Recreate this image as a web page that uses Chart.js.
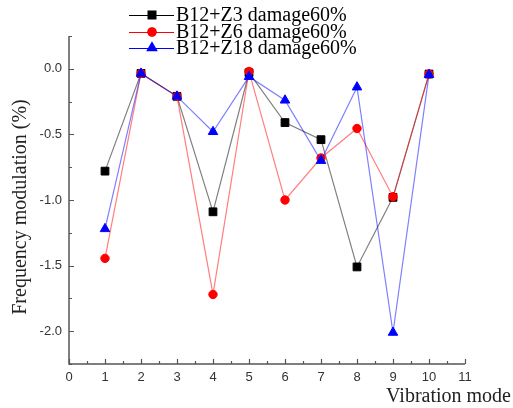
<!DOCTYPE html>
<html>
<head>
<meta charset="utf-8">
<script src="https://cdn.jsdelivr.net/npm/chart.js@4/dist/chart.umd.min.js"></script>
<style>
html,body{margin:0;padding:0;background:#fff;}
#wrap{position:relative;width:513px;height:408px;}
</style>
</head>
<body>
<div id="wrap"><canvas id="c" width="513" height="408"></canvas></div>
<script>
const modes = [1,2,3,4,5,6,7,8,9,10];
const seriesNames = ["B12+Z3 damage60%","B12+Z6 damage60%","B12+Z18 damage60%"];
const z3 = [-0.78,-0.035,-0.21,-1.09,-0.03,-0.41,-0.54,-1.51,-0.98,-0.04];
const z6 = [-1.445,-0.035,-0.21,-1.72,-0.02,-1.00,-0.68,-0.455,-0.975,-0.04];
const z18 = [-1.22,-0.035,-0.21,-0.48,-0.06,-0.24,-0.70,-0.14,-2.01,-0.045];
const yTicks = [0.0,-0.5,-1.0,-1.5,-2.0];
const yMinorTicks = [0.25,-0.25,-0.75,-1.25,-1.75,-2.25];
const xTicks = [0,1,2,3,4,5,6,7,8,9,10,11];
const xTitle = "Vibration mode";
const yTitle = "Frequency modulation (%)";

const colors = ["#000000","#ff0000","#0000ff"];
const lineColors = ["rgba(0,0,0,0.5)","rgba(255,0,0,0.5)","rgba(0,0,255,0.5)"];
const styles = ["rect","circle","triangle"];
const radii = [5.5,4.2,5.5];

function toPts(arr){ return modes.map((m,i)=>({x:m,y:arr[i]})); }

const datasets = [z3,z6,z18].map((arr,i)=>({
  label: seriesNames[i],
  data: toPts(arr),
  borderColor: lineColors[i],
  borderWidth: 1.2,
  pointStyle: styles[i],
  pointRadius: radii[i],
  pointHoverRadius: radii[i],
  pointBackgroundColor: colors[i],
  pointBorderColor: colors[i],
  pointBorderWidth: 1,
  fill: false,
  tension: 0,
  order: 3-i
}));

const serif = "'Liberation Serif','Times New Roman',serif";

const deco = {
  id:'deco',
  beforeDatasetsDraw(chart){
    const ctx = chart.ctx;
    const xs = chart.scales.x, ys = chart.scales.y;
    const a = chart.chartArea;
    ctx.save();
    ctx.strokeStyle = '#555';
    ctx.lineWidth = 1.5;
    ctx.beginPath();
    ctx.moveTo(a.left, a.top);
    ctx.lineTo(a.left, a.bottom);
    ctx.lineTo(a.right, a.bottom);
    ctx.stroke();
    ctx.lineWidth = 1.2;
    ctx.beginPath();
    yTicks.forEach(v=>{const p=Math.round(ys.getPixelForValue(v))+0.5; ctx.moveTo(a.left,p); ctx.lineTo(a.left+5,p);});
    yMinorTicks.forEach(v=>{const p=Math.round(ys.getPixelForValue(v))+0.5; ctx.moveTo(a.left,p); ctx.lineTo(a.left+3,p);});
    xTicks.forEach(v=>{const p=Math.round(xs.getPixelForValue(v))+0.5; ctx.moveTo(p,a.bottom); ctx.lineTo(p,a.bottom-5);});
    xTicks.slice(0,-1).forEach(v=>{const p=Math.round(xs.getPixelForValue(v+0.5))+0.5; ctx.moveTo(p,a.bottom); ctx.lineTo(p,a.bottom-3);});
    ctx.stroke();
    ctx.restore();
  },
  afterDraw(chart){
    const ctx = chart.ctx;
    ctx.save();
    ctx.fillStyle = '#222';
    ctx.font = "20px " + serif;
    ctx.textAlign = 'right';
    ctx.textBaseline = 'middle';
    ctx.fillText(xTitle, 511, 397);
    ctx.translate(21, 207);
    ctx.rotate(-Math.PI/2);
    ctx.textAlign = 'center';
    ctx.fillText(yTitle, 0, 0);
    ctx.restore();
    ctx.save();
    const rows = [15,32,48];
    rows.forEach((y,i)=>{
      ctx.strokeStyle = colors[i];
      ctx.lineWidth = 1.2;
      ctx.beginPath();
      ctx.moveTo(129,y+0.5); ctx.lineTo(174,y+0.5);
      ctx.stroke();
      Chart.helpers.drawPoint(ctx,{pointStyle:styles[i],radius:radii[i],borderWidth:1,rotation:0},152,y);
      ctx.fillStyle = colors[i];
      ctx.strokeStyle = colors[i];
      ctx.fill();
      ctx.fillStyle = '#000';
      ctx.font = "20px " + serif;
      ctx.textAlign = 'left';
      ctx.textBaseline = 'middle';
      ctx.fillText(seriesNames[i], 176, y+1);
    });
    ctx.restore();
  }
};

new Chart(document.getElementById('c'), {
  type: 'line',
  data: { datasets },
  options: {
    responsive: false,
    animation: false,
    devicePixelRatio: 1,
    layout: { padding: { top: 36, right: 48, left: 0, bottom: 0 } },
    plugins: { legend: { display: false }, tooltip: { enabled: false } },
    scales: {
      x: {
        type: 'linear', min: 0, max: 11,
        grid: { display: false, drawTicks: false },
        border: { display: false },
        afterFit: s => { s.height = 44; },
        afterBuildTicks: s => { s.ticks = xTicks.map(v=>({value:v})); },
        ticks: { padding: 6, color: '#333', font: { family: "'Liberation Sans',Arial,sans-serif", size: 13 }, callback: v => String(v), maxRotation: 0, autoSkip: false }
      },
      y: {
        type: 'linear', min: -2.25, max: 0.25,
        grid: { display: false, drawTicks: false },
        border: { display: false },
        afterFit: s => { s.width = 69; },
        afterBuildTicks: s => { s.ticks = yTicks.map(v=>({value:v})); },
        ticks: { padding: 7, color: '#333', font: { family: "'Liberation Sans',Arial,sans-serif", size: 13 }, callback: v => v.toFixed(1) }
      }
    }
  },
  plugins: [deco]
});
</script>
</body>
</html>
